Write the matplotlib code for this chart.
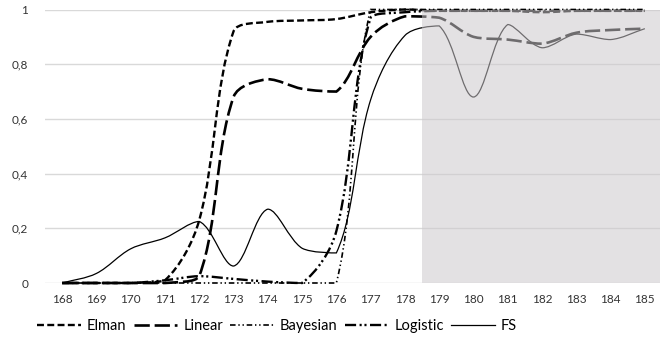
import matplotlib
matplotlib.use('Agg')
import numpy as np
import matplotlib.pyplot as plt
from matplotlib.path import Path
from matplotlib.patches import PathPatch
from matplotlib.lines import Line2D

plt.rcParams['font.family'] = ['Lato', 'DejaVu Sans']
plt.rcParams['lines.scale_dashes'] = False

# data
years = [168, 169, 170, 171, 172, 173, 174, 175, 176, 177, 178,
         179, 180, 181, 182, 183, 184, 185]
elman = [0, 0, 0, 0.01, 0.23, 0.92, 0.955, 0.96, 0.965, 0.99, 1.0,
         0.995, 0.995, 0.995, 0.99, 0.995, 0.995, 0.995]
linear = [0, 0, 0, 0, 0.025, 0.68, 0.745, 0.71, 0.70, 0.9, 0.975,
          0.97, 0.9, 0.89, 0.875, 0.915, 0.925, 0.93]
bayesian = [0, 0, 0, 0, 0, 0, 0, 0, 0, 1.0, 1.0,
            1.0, 1.0, 1.0, 1.0, 1.0, 1.0, 1.0]
logistic = [0, 0, 0, 0.01, 0.025, 0.015, 0.005, 0, 0.19, 0.97, 0.99,
            0.995, 0.995, 0.995, 0.995, 0.995, 0.995, 0.995]
fs = [0, 0.035, 0.125, 0.165, 0.225, 0.062, 0.27, 0.127, 0.11, 0.67, 0.905,
      0.94, 0.68, 0.945, 0.86, 0.91, 0.89, 0.93]
shade_from = 178.5

styles = {
    'Elman': dict(lw=1.7, ls=(0, (5, 2.4))),
    'Linear': dict(lw=1.9, ls=(0, (11, 3.5))),
    'Bayesian': dict(lw=1.2, ls=(0, (4, 2, 1, 2, 1, 2))),
    'Logistic': dict(lw=1.7, ls=(0, (8, 2.5, 1.5, 2, 1.5, 2.5))),
    'FS': dict(lw=0.9, ls='-'),
}

# rough pixel size of one unit on each axis, for the curve tangents
XPX, YPX = 34.3, 273.0


def smooth_path(xs, ys, t=1 / 3):
    # excel-like smoothed line: cubic bezier through every point,
    # tangents weighted by segment length, no overshoot past the points
    p = np.column_stack([np.asarray(xs, float) * XPX, np.asarray(ys, float) * YPX])
    n = len(p)
    verts = [tuple(p[0])]
    codes = [Path.MOVETO]
    for i in range(n - 1):
        a, b = p[i], p[i + 1]
        pa = p[max(i - 1, 0)]
        pb = p[min(i + 2, n - 1)]
        dab = np.hypot(*(b - a)) or 1e-9
        d1 = np.hypot(*(a - pa))
        d2 = np.hypot(*(pb - b))
        c1 = a + (b - pa) * t * dab / (d1 + dab)
        c2 = b - (pb - a) * t * dab / (d2 + dab)
        lo, hi = min(a[1], b[1]), max(a[1], b[1])
        c1[1] = np.clip(c1[1], lo, hi)
        c2[1] = np.clip(c2[1], lo, hi)
        verts += [tuple(c1), tuple(c2), tuple(b)]
        codes += [Path.CURVE4] * 3
    verts = [(vx / XPX, vy / YPX) for vx, vy in verts]
    return Path(verts, codes)


fig = plt.figure(figsize=(6.6, 3.43), dpi=100)
ax = fig.add_axes([45 / 660, 60 / 343, 617 / 660, 273.5 / 343])

series = [('Elman', elman), ('Linear', linear), ('Bayesian', bayesian),
          ('Logistic', logistic), ('FS', fs)]
handles = []
for name, vals in series:
    st = styles[name]
    patch = PathPatch(smooth_path(years, vals), fill=False, edgecolor='black',
                      linewidth=st['lw'], linestyle=st['ls'], zorder=3,
                      clip_on=False, capstyle='butt')
    ax.add_patch(patch)
    handles.append(Line2D([], [], color='black', lw=st['lw'], ls=st['ls'],
                          label=name))

ax.axvspan(shade_from, 185.5, color='#cdc9cd', alpha=0.54, lw=0, zorder=5)

ax.set_xlim(167.5, 185.5)
ax.set_ylim(0, 1)
ax.set_xticks(years)
ax.set_yticks([0, 0.2, 0.4, 0.6, 0.8, 1])
ax.set_yticklabels(['0', '0,2', '0,4', '0,6', '0,8', '1'])
ax.tick_params(length=0, labelsize=8.5, colors='#333333')
ax.tick_params(axis='y', pad=12)
ax.tick_params(axis='x', pad=8)
ax.grid(axis='y', color='#d9d9d9', lw=1)
ax.set_axisbelow(True)
for s in ax.spines.values():
    s.set_visible(False)

fig.legend(handles=handles, loc='center', bbox_to_anchor=(277 / 660, 1 - 326 / 343),
           ncol=5, frameon=False, fontsize=10.5, handlelength=3.0,
           handletextpad=0.4, columnspacing=0.5, borderpad=0)

fig.savefig('out.png', dpi=100)
